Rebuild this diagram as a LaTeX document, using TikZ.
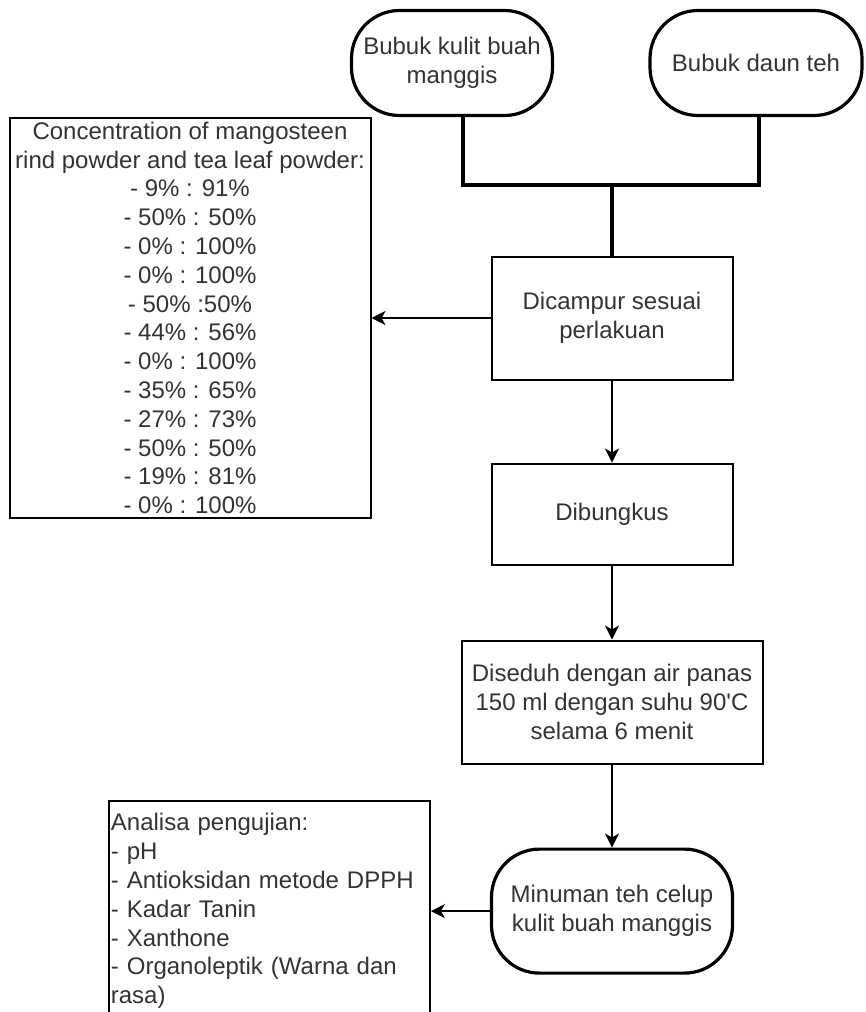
\documentclass[tikz,border=0pt]{standalone}
\usepackage{fontspec}
\setmainfont{Liberation Sans}
\usetikzlibrary{arrows.meta,positioning}

\begin{document}
\begin{tikzpicture}[x=1pt, y=-1pt, >={Stealth[length=14pt,width=14pt,inset=4pt]}, every node/.style={font=\fontsize{24}{28.8}\selectfont, text=black!80, align=center, inner sep=2pt}, stepbox/.style={draw, line width=2pt, minimum width=241pt, minimum height=123pt}, termbox/.style={draw, line width=3.2pt, rounded corners=48pt, minimum height=105pt}, notebox/.style={draw, line width=2pt}]
\useasboundingbox (0,0) rectangle (866,1012);
\clip (0,0) rectangle (866,1012);
\node[stepbox] (mix) at (612,318) {Dicampur sesuai\\perlakuan};
\node[stepbox, minimum height=101pt, below=82pt of mix] (wrap) {Dibungkus};
\node[stepbox, minimum width=301pt, below=74pt of wrap] (brew) {Diseduh dengan air panas\\150 ml dengan suhu 90\textquotesingle C\\selama 6 menit};
\node[termbox, minimum width=241pt, minimum height=124pt, below=83pt of brew] (drink) {Minuman teh celup\\kulit buah manggis};
\node[termbox, minimum width=201pt] (rind) at (452,63) {Bubuk kulit buah\\manggis};
\node[termbox, minimum width=212pt] (leaf) at (756,63) {Bubuk daun teh};
\node[notebox, inner sep=0pt, minimum width=361pt, minimum height=400pt, left=119pt of mix] (ratio) {Concentration of mangosteen\\rind powder and tea leaf powder:\\- 9\% : 91\%\\- 50\% : 50\%\\- 0\% : 100\%\\- 0\% : 100\%\\- 50\% :50\%\\- 44\% : 56\%\\- 0\% : 100\%\\- 35\% : 65\%\\- 27\% : 73\%\\- 50\% : 50\%\\- 19\% : 81\%\\- 0\% : 100\%};
\node[notebox, minimum width=321pt, minimum height=220pt, text width=317pt, align=left, left=59pt of drink] (tests) {Analisa pengujian:\\- pH\\- Antioksidan metode DPPH\\- Kadar Tanin\\- Xanthone\\- Organoleptik (Warna dan\\rasa)};
\coordinate (join) at (612,185);
\draw[line width=3.2pt] ([xshift=11pt]rind.south) |- (join);
\draw[line width=3.2pt] ([xshift=3pt]leaf.south) |- (join);
\draw[line width=3.2pt] (join) -- (mix);
\draw[->, line width=2pt] (mix) -- (ratio);
\draw[->, line width=2pt] (mix) -- (wrap);
\draw[->, line width=2pt] (wrap) -- (brew);
\draw[->, line width=2pt] (brew) -- (drink);
\draw[->, line width=2pt] (drink) -- (tests);
\end{tikzpicture}
\end{document}
